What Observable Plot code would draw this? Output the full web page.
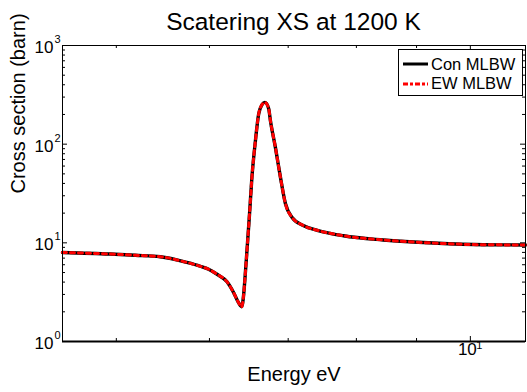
<!DOCTYPE html>
<html>
<head>
<meta charset="utf-8">
<script src="https://cdn.jsdelivr.net/npm/d3@7"></script>
<script src="https://cdn.jsdelivr.net/npm/@observablehq/plot@0.6"></script>
<style>
  body { margin: 0; background: #fff; }
  #wrap { position: relative; width: 527px; height: 392px; font-family: "Liberation Sans", Arial, sans-serif; background:#fff; }
  #title { position: absolute; left: 62px; width: 463px; top: 8px; text-align: center; font-size: 24.5px; line-height: 28px; color: #000; }
  #chart { position: absolute; left: 0; top: 36px; }
  #legend { position: absolute; left: 398px; top: 49px; width: 123px; height: 45px; border: 1px solid #000; background: #fff; font-size: 16.5px; }
  #legend .row { position: absolute; left: 0; height: 20px; display: flex; align-items: center; }
  #legend svg { margin-left: 4px; margin-right: 3px; }
</style>
</head>
<body>
<div id="wrap">
  <div id="title">Scatering XS at 1200 K</div>
  <div id="chart"></div>
  <div id="legend"></div>
</div>
<script>
// Energy (eV) and scattering cross section (barn)
const energy = [4.5, 4.94, 5.188, 5.45, 5.74, 5.893, 5.99, 6.09, 6.21, 6.29, 6.35, 6.39, 6.418, 6.43, 6.46, 6.49, 6.52, 6.565, 6.607, 6.651, 6.688, 6.738, 6.761, 6.827, 6.895, 6.963, 7.054, 7.217, 7.41, 7.80, 8.43, 9.30, 10.26, 11.14];
const xsCon  = [7.99, 7.70, 7.48, 7.23, 6.33, 5.79, 5.40, 4.80, 4.03, 3.14, 2.49, 2.25, 3.12, 4.13, 8.92, 19.7, 45.7, 108, 202, 252, 265, 229, 173, 92.8, 46.1, 24.9, 18.1, 14.9, 13.4, 11.8, 10.7, 9.95, 9.56, 9.52];
const xsEW   = [7.99, 7.70, 7.48, 7.23, 6.33, 5.79, 5.40, 4.80, 4.03, 3.14, 2.49, 2.25, 3.12, 4.13, 8.92, 19.7, 45.7, 108, 202, 252, 265, 229, 173, 92.8, 46.1, 24.9, 18.1, 14.9, 13.4, 11.8, 10.7, 9.95, 9.56, 9.52];
const seriesNames = ["Con MLBW", "EW MLBW"];
const xDomain = [4.5, 11.14];
const yDomain = [1, 1000];
const xMajor = [10];
const xMinor = [5, 6, 7, 8, 9];
const yMajor = [1, 10, 100, 1000];
const yMinor = [2,3,4,5,6,7,8,9,20,30,40,50,60,70,80,90,200,300,400,500,600,700,800,900];
const xTitle = "Energy eV";
const yTitle = "Cross section (barn)";

const con = energy.map((e, i) => ({e, v: xsCon[i]}));
const ew = energy.map((e, i) => ({e, v: xsEW[i]}));

const W = 527, H = 356, mL = 62, mR = 2, mT = 9, mB = 51;
const pw = W - mL - mR, ph = H - mT - mB;

const chart = Plot.plot({
  width: W, height: H,
  marginLeft: mL, marginRight: mR, marginTop: mT, marginBottom: mB,
  style: {fontFamily: "'Liberation Sans', Arial, sans-serif", background: "#fff", color: "#000", overflow: "visible"},
  x: {type: "log", domain: xDomain, axis: null},
  y: {type: "log", domain: yDomain, axis: null},
  marks: [
    // inward ticks: bottom / top
    Plot.ruleX(xMinor, {x: d => d, insetTop: ph - 3, stroke: "#000", strokeWidth: 1}),
    Plot.ruleX(xMinor, {x: d => d, insetBottom: ph - 3, stroke: "#000", strokeWidth: 1}),
    Plot.ruleX(xMajor, {x: d => d, insetTop: ph - 5, stroke: "#000", strokeWidth: 1}),
    Plot.ruleX(xMajor, {x: d => d, insetBottom: ph - 5, stroke: "#000", strokeWidth: 1}),
    // inward ticks: left / right
    Plot.ruleY(yMinor, {y: d => d, insetRight: pw - 3, stroke: "#000", strokeWidth: 1}),
    Plot.ruleY(yMinor, {y: d => d, insetLeft: pw - 3, stroke: "#000", strokeWidth: 1}),
    Plot.ruleY(yMajor, {y: d => d, insetRight: pw - 5, stroke: "#000", strokeWidth: 1}),
    Plot.ruleY(yMajor, {y: d => d, insetLeft: pw - 5, stroke: "#000", strokeWidth: 1}),
    // curves
    Plot.line(con, {x: "e", y: "v", stroke: "#000", strokeWidth: 3.4, curve: "monotone-x"}),
    Plot.line(ew, {x: "e", y: "v", stroke: "#ff0000", strokeWidth: 3, strokeDasharray: "4,4", curve: "monotone-x"}),
    Plot.frame({stroke: "#000", strokeWidth: 1}),
    Plot.ruleY([yDomain[0]], {stroke: "#000", strokeWidth: 2}),
    // y tick labels
    Plot.text(yMajor, {frameAnchor: "left", y: d => d, text: () => "10", textAnchor: "end", dx: -9, dy: 2, fontSize: 17}),
    Plot.text(yMajor, {frameAnchor: "left", y: d => d, text: d => String(Math.round(Math.log10(d))), textAnchor: "start", dx: -8, dy: -6, fontSize: 11}),
    // x tick labels
    Plot.text(xMajor, {frameAnchor: "bottom", x: d => d, text: () => "10", textAnchor: "middle", dx: -3, dy: 13, fontSize: 17}),
    Plot.text(xMajor, {frameAnchor: "bottom", x: d => d, text: d => String(Math.round(Math.log10(d))), textAnchor: "start", dx: 6, dy: 7, fontSize: 11}),
    // axis titles
    Plot.text([xTitle], {frameAnchor: "bottom", text: d => d, dy: 39, fontSize: 20}),
    Plot.text([yTitle], {frameAnchor: "left", text: d => d, dx: -44, rotate: -90, fontSize: 20})
  ]
});
document.getElementById("chart").appendChild(chart);

// legend
const legend = document.getElementById("legend");
const styles = [
  {stroke: "#000", dash: null},
  {stroke: "#ff0000", dash: "5,2,3,2"}
];
seriesNames.forEach((name, i) => {
  const row = document.createElement("div");
  row.className = "row";
  row.style.top = (4 + i * 19.5) + "px";
  const s = styles[i];
  row.innerHTML = `<svg width="25" height="6"><line x1="0" y1="3" x2="25" y2="3" stroke="${s.stroke}" stroke-width="3" ${s.dash ? `stroke-dasharray="${s.dash}"` : ""}/></svg><span>${name}</span>`;
  legend.appendChild(row);
});
</script>
</body>
</html>
